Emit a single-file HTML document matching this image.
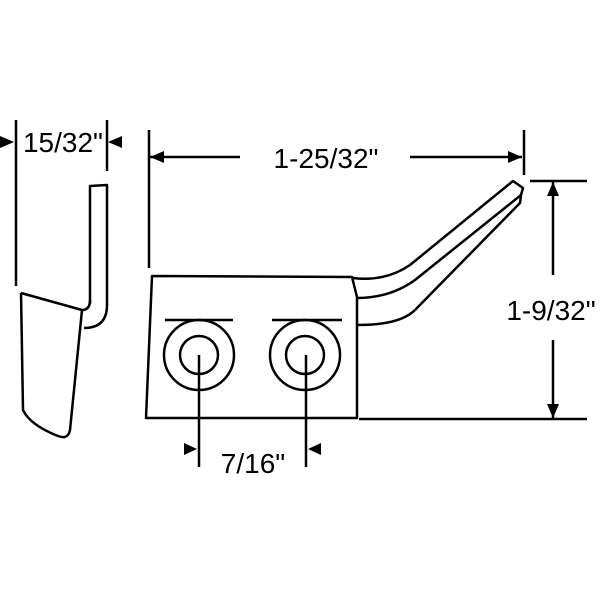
<!DOCTYPE html>
<html><head><style>body{margin:0;background:#fff}svg{display:block}</style></head><body>
<svg width="600" height="600" viewBox="0 0 600 600" xmlns="http://www.w3.org/2000/svg" font-family="Liberation Sans, sans-serif">
<g fill="none" stroke="#000" stroke-width="2.5" stroke-linejoin="round">
<line x1="16" y1="120" x2="16" y2="286"/>
<line x1="107" y1="120" x2="107" y2="171"/>
<path d="M90,304 L90,186 L107,185 L107,305 Q107,328 84,328"/>
<path d="M21,293 L82,310 Q90,310 90,300"/>
<path d="M82,310 L70,430 Q68,440 58,436 Q30,425 23,410 L21,293"/>
<path d="M152,276 L352,277 L357,297 L357,418 L146,418 Z"/>
<path d="M353,278 Q385,282 410,265 L513,181 L523,188 L521,195"/>
<path d="M357,298 Q390,298 415,280 L521,195 L520,203 L415,310 Q400,325 358,325"/>
<line x1="165" y1="320" x2="233" y2="320"/>
<line x1="272" y1="320" x2="342" y2="320"/>
<circle cx="199" cy="355" r="35"/>
<circle cx="199" cy="355" r="19"/>
<circle cx="305" cy="355" r="35"/>
<circle cx="305" cy="355" r="19"/>
<line x1="199" y1="355" x2="199" y2="467"/>
<line x1="306" y1="355" x2="306" y2="467"/>
<line x1="149" y1="130" x2="149" y2="268"/>
<line x1="524" y1="130" x2="524" y2="175"/>
<line x1="150" y1="157" x2="240" y2="157"/>
<line x1="410" y1="157" x2="522" y2="157"/>
<line x1="530" y1="181" x2="587" y2="181"/>
<line x1="359" y1="419" x2="587" y2="419"/>
<line x1="553" y1="181" x2="553" y2="275"/>
<line x1="553" y1="340" x2="553" y2="419"/>
</g>
<g fill="#000">
<polygon points="0,136 14,142 0,148"/>
<polygon points="122,136 108,142 122,148"/>
<polygon points="150,157 164,151 164,163"/>
<polygon points="522,157 508,151 508,163"/>
<polygon points="553,182 547,196 559,196"/>
<polygon points="553,418 547,404 559,404"/>
<polygon points="184,443 197,449 184,455"/>
<polygon points="321,443 308,449 321,455"/>
<text x="63" y="152" font-size="28" text-anchor="middle">15/32"</text>
<text x="326" y="168" font-size="28" text-anchor="middle">1-25/32"</text>
<text x="551" y="320" font-size="28" text-anchor="middle">1-9/32"</text>
<text x="253" y="473" font-size="28" text-anchor="middle">7/16"</text>
</g>
</svg>
</body></html>
